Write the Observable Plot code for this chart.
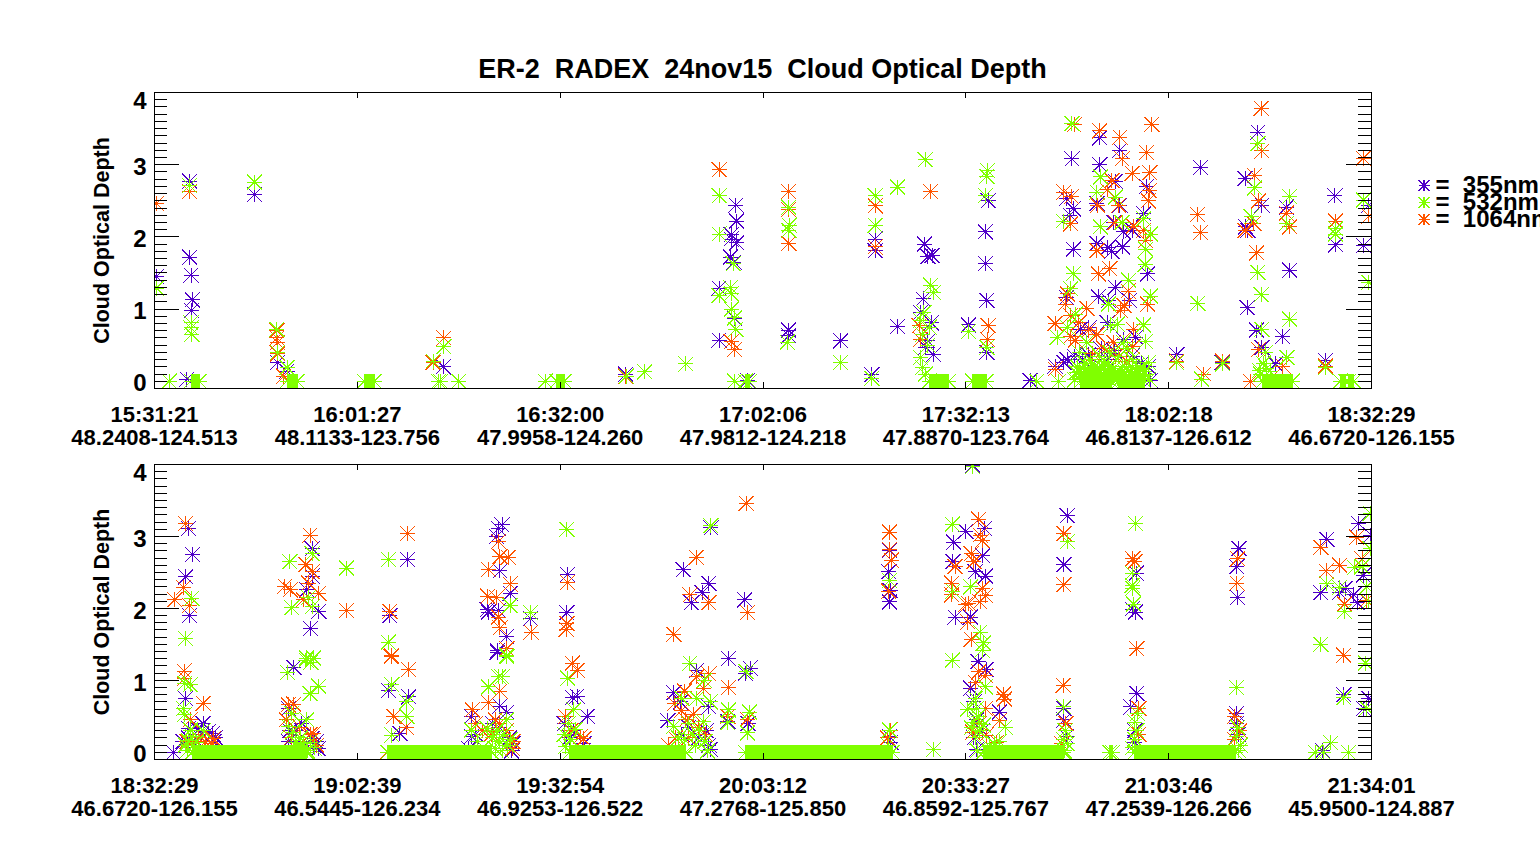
<!DOCTYPE html>
<html><head><meta charset="utf-8">
<script src="https://cdn.jsdelivr.net/npm/d3@7"></script>
<script src="https://cdn.jsdelivr.net/npm/@observablehq/plot@0.6"></script>
<style>
html,body{margin:0;padding:0;background:#fff;overflow:hidden}
#page{position:relative;width:1540px;height:845px;overflow:hidden;font-family:"Liberation Sans",sans-serif;font-weight:bold;color:#000}
#title{position:absolute;z-index:5;left:0;width:1525px;top:54px;text-align:center;font-size:27px;line-height:30px;white-space:pre}
#top,#bottom,#legend{position:absolute;left:0}
#top{top:0}#bottom{top:455px}
#legend{left:1410px;top:170px;z-index:6}
svg{display:block;overflow:visible}
</style></head><body>
<div id="page"><div id="title">ER-2  RADEX  24nov15  Cloud Optical Depth</div><div id="top"></div><div id="bottom"></div><div id="legend"></div></div>
<script>
const wavelengths=["355nm","532nm","1064nm"];
const colors=["#5000C8","#80FF00","#FF5500"];
const topTimes=["15:31:21","16:01:27","16:32:00","17:02:06","17:32:13","18:02:18","18:32:29"];
const topCoords=["48.2408-124.513","48.1133-123.756","47.9958-124.260","47.9812-124.218","47.8870-123.764","46.8137-126.612","46.6720-126.155"];
const bottomTimes=["18:32:29","19:02:39","19:32:54","20:03:12","20:33:27","21:03:46","21:34:01"];
const bottomCoords=["46.6720-126.155","46.5445-126.234","46.9253-126.522","47.2768-125.850","46.8592-125.767","47.2539-126.266","45.9500-124.887"];
const tickMinutes=[0,30,60,90,120,150,180];
const depthMajor=[1,2,3];
const depthMinor=[0,.1,.2,.3,.4,.5,.6,.7,.8,.9,1.1,1.2,1.3,1.4,1.5,1.6,1.7,1.8,1.9,2.1,2.2,2.3,2.4,2.5,2.6,2.7,2.8,2.9,3.1,3.2,3.3,3.4,3.5,3.6,3.7,3.8,3.9];

// x = minutes after panel start, y = cloud optical depth
const top355=[[.3,1.45],[5.2,2.77],[5.2,1.72],[5.4,1.47],[5.6,1.13],[5.5,.98],[14.8,2.59],[18.2,.26],[19.6,.14],[42.7,.2],[41.2,.26],[4.8,.03],
[69.7,.1],[72.5,.13],[83.5,1.29],[85.3,1.21],[83.5,.57],[86,2.44],[86.1,2.22],[85.3,2.03],[85.3,1.97],[86.1,1.92],[85.2,1.72],[85.7,1.65],[85.8,.87],[93.8,.71],[93.8,.63],[101.5,.56],[106.1,.09],[106.6,1.97],[106.6,1.81],[109.9,.76],[113.9,1.9],[114.4,1.73],[115,1.74],[113.7,1.14],[113.3,.95],[114.9,.81],[114.4,.56],[115.2,.37],[114.1,.47],[120.4,.78],[123.3,2.5],[122.9,2.07],[122.9,1.63],[123.1,1.12],[123.2,.58],[123.1,.4],[87.7,.01],
[135.7,3.08],[139.8,3.37],[139.8,3],[142.8,3.2],[142.1,2.77],[134.9,2.53],[135.9,2.39],[135.4,2.3],[139.4,2.46],[142.8,2.44],[146.7,2.7],[146.3,2.32],[135.9,1.83],[139.4,1.91],[141,1.85],[141.6,1.8],[143.2,1.86],[146.9,1.49],[142.1,1.3],[139.6,1.17],[134.9,1.16],[144.2,1.12],[141.1,1.12],[141.9,2.2],[143.3,2.07],[144.7,2.09],[138.2,.74],[136.9,.72],[140.9,.81],[143.3,.58],[145.1,.61],[138.1,.37],[133.2,.21],[134.5,.26],[129.5,.01],[147.3,.01],[151.2,.37],[154.7,2.96],[161.3,2.81],[163.8,2.44],[161.7,2.09],[161.4,2.14],[163.2,3.45],[161.6,1.02],[163,.71],[163.8,.47],[166.8,.62],[167.9,1.54],[167.4,2.41],[165.8,.24],[173.2,.29],[174.6,2.57],[174.7,1.89],[178.8,1.88],[179.6,2.44],[157.9,.26],[135,.3],[136,.35],[137.2,.3],[140,.45],[142,.42],[144.6,.35],[146,.25],[141,.3],[147,.2]];
const top532=[[.3,1.29],[5.2,2.71],[5.4,.81],[5.4,.74],[5.5,.65],[14.8,2.76],[18.1,.72],[18.2,.4],[19.6,.19],[42.8,.48],[41.2,.28],[2.2,0],[42,0],[45,0],
[83.5,2.57],[83.5,2.04],[85.2,1.3],[83.5,1.19],[85.3,1.21],[85.3,1],[85.6,1.63],[85.8,.88],[86,.72],[93.8,2.41],[93.9,2.16],[93.8,2.09],[93.6,.54],[101.5,.26],[106.1,.04],[106.6,2.57],[106.6,2.16],[109.9,2.69],[114,3.07],[114.8,1.33],[115.2,1.23],[113.8,.95],[113.3,.84],[113.6,.65],[113.3,.33],[113.6,.19],[114.4,.5],[114.6,.75],[114,.1],[120.4,.69],[123.2,2.92],[123.1,2.84],[122.9,2.57],[123.1,.47],[69.8,.07],[72.5,.13],[78.6,.24],[85.8,0],[57.8,0],[42.3,0],
[135.7,3.57],[139.9,2.83],[139.4,2.62],[142.1,2.55],[134.4,2.22],[139.9,2.14],[143.1,2.2],[146.3,2.25],[147.3,2.04],[146.6,1.83],[146.5,1.62],[135.9,1.49],[144.1,1.4],[135.5,1.28],[147.3,1.18],[141.1,1.07],[146.3,.78],[142.4,.79],[141.4,.77],[133.5,.61],[135,.75],[136.2,.93],[146.6,.55],[147,.26],[143.3,.54],[137.9,.54],[133.7,0],[130.5,0],[151.2,.26],[154.9,.03],[158,.24],[163.2,3.29],[162.7,2.68],[162.2,2.28],[163.2,1.51],[163.7,1.2],[167.9,.86],[167.9,2.56],[167.5,2.19],[154.3,1.08],[163.8,.72],[164.3,.4],[167.5,.33],[173.2,.19],[174.7,2.04],[178.8,2.51],[179.6,1.37],[174.7,2.11],[163.6,.1],[164,.25],[164.5,.18],[165,.14],[163.4,.15],
[136.8,.4],[137.6,.25],[138.4,.3],[139,.2],[139.8,.35],[140.5,.28],[141.3,.4],[141.9,.18],[142.6,.34],[143.2,.2],[143.9,.45],[144.6,.3],[145.3,.22],[145.9,.16],[146.5,.1],[136.3,.12],[136.1,.02],[147.1,.03],
[136.5,.2],[136.8,.14],[137.1,.1],[137.4,.18],[137.7,.12],[138,.16],[138.3,.1],[138.6,.19],[138.9,.13],[139.2,.1],[139.5,.17],[139.8,.12],[140.1,.2],[140.4,.1],[140.7,.15],[141,.11],[141.3,.18],[141.6,.08],[141.9,.05],[142.2,.12],[142.5,.04],[142.8,.1],[143.1,.06],[143.4,.14],[143.7,.1],[144,.17],[144.3,.12],[144.6,.19],[144.9,.1],[145.2,.14],[145.5,.11],[145.8,.18],[146.1,.09],[146.4,.14]];
const top1064=[[.3,2.46],[5.2,2.63],[18.1,.7],[18.1,.6],[18.2,.54],[18.2,.38],[19.1,.07],[42.8,.6],[41.2,.26],[83.5,2.93],[93.8,2.63],[93.8,2.38],[93.8,1.91],[93.6,.54],[106.6,2.43],[106.6,1.86],[114.8,2.63],[101.5,.26],[85.3,.55],[85.8,.44],[78.6,.24],[113.1,.77],[113.3,.58],[123.3,.77],[123.2,.58],[69.7,.07],[72.5,.13],[114.6,.75],
[136,3.55],[139.8,3.47],[142.8,3.38],[147.5,3.56],[143.1,3.08],[146.7,3.17],[144.6,2.88],[147.2,2.89],[141.6,2.78],[140.9,2.65],[134.5,2.62],[135.6,2.56],[139.5,2.44],[147.1,2.64],[147,2.5],[142.6,2.44],[135.5,2.18],[142.1,2.2],[144.8,2.15],[146.3,2.09],[146.6,1.95],[139.4,1.81],[141.3,1.56],[139.6,1.49],[144,1.25],[135,1.21],[134.7,1.07],[146.9,1.07],[143.4,1.05],[142.9,.98],[137.9,1.01],[133.2,.8],[135.5,.91],[136.7,.81],[138.2,.71],[144.8,.72],[135.5,.62],[136.2,.57],[139.4,.65],[141.9,.54],[144.7,.48],[133.2,.17],[151.2,.28],[155.2,.1],[158,.28],[154.3,2.31],[154.7,2.06],[163.7,3.78],[163.8,3.19],[162.7,2.85],[163.3,2.5],[163,1.78],[162.6,2.19],[161.3,2.09],[167.4,2.33],[167.9,2.14],[163.3,.44],[166.9,.21],[167.5,.33],[162.1,0],[173.2,.21],[174.7,2.22],[178.8,3.09],[179.6,2.29],[140.5,.45],[142.2,.35],[138.8,.38],[143.8,.28]];
const bottom355=[[5,3.11],[5.6,2.75],[4.6,2.44],[5.2,1.9],[23,3.02],[23.3,2.83],[23.3,2.45],[22.5,2.26],[24.3,1.96],[23.1,1.72],[37.4,2.68],[34.8,1.9],[50.9,3.11],[51.4,3.16],[50.6,3],[51.1,2.52],[52.6,2.21],[49.2,1.98],[49.4,1.95],[50.9,1.97],[52.1,1.61],[50.7,1.41],[55.6,1.86],
[2.8,0],[4.6,.75],[5,.33],[6.5,.31],[7.2,.4],[8,.29],[8.6,.26],[20.6,1.18],[19.8,.61],[21.8,.4],[23.3,.19],[34.6,.86],[37.6,.77],[36.3,.26],[50.7,1.39],[51.1,.64],[46.9,.5],[52.1,.56],[46.9,.22],
[4.2,.15],[5,.2],[6,.18],[7,.25],[8.8,.15],[9,.2],[19.8,.15],[20,.3],[21,.3],[22,.15],[23.5,.1],[24,.15],[24.2,.05],[46.5,.05],[47.5,.25],[50,.4],[51,.35],[52.5,.2],[53,.12],[52.8,.02],
[61.1,2.47],[61,1.94],[61.1,1.03],[61.8,.76],[62.5,.78],[64,.5],[78.2,2.54],[82,2.35],[81,2.22],[79.4,2.08],[84.9,1.3],[87.3,2.12],[88.1,1.17],[87.4,1.1],[76.8,.83],[80.2,1.14],[77.8,.7],[82,.63],[75.9,.44],[82.3,3.12],[108.7,3.06],[108.7,2.81],[108.6,2.51],[108.8,2.25],[108.7,2.09],[87.8,.4],[84.8,.43],[60.6,.4],[61.4,.2],[62,.3],[63.5,.12],[78,.25],[79,.35],[80.5,.2],[81.6,.3],[82,.1],[82.2,.04],[108.7,.22],[108.9,.14],
[120,3.07],[122.8,3.11],[118.2,2.92],[122.5,2.73],[118.1,2.65],[121.4,2.51],[122.9,2.45],[118.4,1.88],[120.7,1.88],[121.8,1.26],[123,1.15],[120.7,.89],[125,.56],[135,3.29],[134.5,2.61],[134.5,.61],[145.3,.82],[144.4,.63],[145.2,2.49],[144.6,1.99],[145.1,1.95],[160.4,2.83],[160.1,2.58],[160.2,2.15],[160,.54],[173.4,2.96],[172.5,2.22],[175.3,2.22],[176.1,2.28],[177.4,2.19],[177.9,2.08],[178.1,3.18],[179.9,3.02],[178.8,2.46],[175.9,.8],[178.8,.61],[179.6,.75],[172.8,.02],[115.2,.04],[121,3.99],[121.2,.7],[121.6,.45],[122.4,.3],[121.2,.2],[121.6,.04],[134.5,.45],[134.9,.22],[145,.3],[145,.14],[160,.4],[160.3,.25]];
const bottom532=[[4.6,1.58],[5.5,2.14],[20,2.65],[23.3,2.76],[28.4,2.56],[20.3,2.01],[22.8,2.15],[23.3,2.02],[34.6,2.68],[34.6,1.53],[52.6,2.04],[55.6,1.94],[52.1,1.35],[22.5,1.31],[23.5,1.31],
[4.5,.96],[5.3,.94],[4.3,.61],[4.4,.52],[7.2,.3],[5.3,.31],[19.7,1.11],[22.4,1.28],[23.1,1.25],[23,.82],[24.3,.92],[22.5,.45],[19.8,.36],[20.3,.54],[35.1,.94],[37.3,.7],[37.3,.5],[35.1,.24],[50.9,1.05],[49.4,.91],[52.1,1.33],[51.4,1.05],[46.9,.31],[49.2,.33],[52.1,.45],
[4.6,.1],[5,.16],[5.6,.22],[6.2,.14],[4.9,.03],[20.4,.28],[20.9,.14],[21.6,.2],[21,.08],[22,.12],[22.6,.02],[23,.14],[23.6,.06],[50,.2],[50.6,.3],[51,.15],[51.6,.25],[52.2,.1],[52.6,.18],[50.4,.05],[51.4,.02],[47.8,.15],
[61,3.1],[61.1,1.03],[62,.59],[61.2,.4],[60.6,.25],[61.6,.18],[62.2,.32],[60.8,.08],[79.2,1.24],[81.3,1],[82.3,3.15],[84.9,.59],[84.8,.41],[87.5,1.12],[88,.56],[87.7,.27],[108.7,2.39],[82.2,.7],[80.2,.75],[76.8,.36],[81.2,.43],[108.7,.31],[78,.75],[79,.4],[79.6,.25],[78.4,.18],[80,.1],[80.6,.3],[81.4,.15],[81.8,.02],[77.5,.2],[108.5,.1],
[118,3.17],[118.1,2.24],[120.7,2.3],[122.1,1.67],[122.6,1.52],[122.4,1.42],[118,1.28],[122.9,.91],[120.2,.6],[121.6,.61],[135,2.93],[134.5,.63],[145.1,3.18],[144.6,2.49],[144.6,2.32],[144.7,2.28],[144.8,2.06],[145.4,.54],[160,.9],[173.4,2.34],[175.3,2.29],[176,1.96],[172.5,1.5],[177.5,2.57],[178.6,2.58],[179.1,1.24],[179.8,3.32],[175.9,.76],[174,.13],[171.7,0],[172.9,0],[176.6,0],[179.3,2.3],[179.8,2.83],[179.3,.61],[179.6,2.09],[121,3.97],[115.2,.04],
[121.4,.75],[121.8,.5],[121.2,.42],[122,.3],[122.6,.38],[121.5,.2],[120.8,.34],[125.8,.35],[125,.15],[123.5,.08],[124.2,.12],[121.7,.02],[134.7,.3],[134.4,.18],[135,.12],[134.6,.02],[145,.42],[145.3,.3],[145,.18],[144.6,.06],[160.2,.35],[160,.22],[160.6,.1],[160.4,.02]];
const bottom1064=[[4.6,3.18],[4.3,2.29],[3,2.12],[5.2,2.04],[23,3.02],[22.4,2.61],[23.3,2.51],[22.8,2.35],[19.3,2.31],[20.1,2.26],[24.3,2.21],[22,2.12],[37.4,3.04],[28.4,1.97],[34.8,1.96],[35,1.33],[49.4,2.54],[50.9,2.93],[51.1,2.72],[52.3,2.71],[52.6,2.34],[49.3,2.17],[50.6,2.15],[50.9,1.88],[51.1,1.73],[52.1,1.44],[55.7,1.67],
[4.4,1.13],[4.5,1.03],[7.2,.68],[5.3,.45],[19.8,.66],[20.6,.67],[23.5,.26],[35.1,1.34],[37.6,1.15],[35.4,.5],[37.2,.35],[34.4,0],[52.1,1.44],[49.4,.69],[47,.59],[51.1,.85],[50.4,.45],[8.7,.19],
[4.8,.15],[6.5,.2],[7.5,.15],[8.5,.12],[19.5,.45],[20.2,.2],[21.5,.35],[23,.25],[24,.1],[47.5,.4],[48.5,.3],[49.8,.25],[51,.4],[52,.3],[53,.15],[53,.05],
[61,1.79],[60.9,1.71],[61.1,2.36],[61.8,1.24],[62.5,1.14],[60.8,.5],[63.5,.19],[87.5,3.46],[80.1,2.71],[79.2,2.19],[82,2.08],[76.8,1.64],[87.7,1.94],[84.9,.9],[82,1.09],[80.2,1.05],[81.2,.89],[78.4,.85],[76.9,.68],[77.9,.58],[79.7,.53],[108.7,3.06],[108.7,2.82],[109,2.67],[108.6,2.24],[108.8,.31],[87.7,.46],[84.8,.5],[78.6,.45],[61.6,.3],[63,.22],[76,.1],[77,.2],[79,.2],[80.5,.35],[81.5,.25],[108.4,.2],
[121.9,3.24],[122.1,3.02],[122.4,2.94],[120.8,2.76],[121.2,2.65],[118.4,2.58],[117.9,2.35],[117.9,2.19],[122.4,2.28],[122.9,2.18],[122.1,2.09],[120,2.06],[120.4,2.07],[120.3,1.81],[120.8,1.57],[121.9,1.12],[122.9,1.07],[121.4,.97],[125.6,.81],[125.7,.74],[122.9,.61],[125,.44],[134.5,3.04],[134.5,2.33],[134.4,.93],[145.3,1.44],[144.7,2.69],[145,2.65],[145.6,.61],[160.2,2.69],[160.1,2.35],[160,.9],[159.8,.5],[172.5,2.85],[173.3,2.52],[175.3,2.6],[176,2.06],[175.9,1.35],[177.8,2.99],[178.6,2.69],[179.3,2.11],[174,.13],[115.2,.04],[121,3.97],[122,.4],[121,.28],[123,.24],[124.6,.14],[134.2,.12],[134.8,.4],[145.6,.25],[159.7,.18],[160.5,.3]];

// runs of dense green stars at zero depth, minutes after panel start
const topRuns=[[5.4,6.6],[19.6,21.1],[31,32.5],[59.5,60.6],[87.4,88],[114.6,117.5],[121,123],[137,141.5],[142.6,146.4],[163.9,168.3],[175.4,176.2],[176.6,177.4]];
const bottomRuns=[[5.6,22.5],[34.5,49.9],[61.4,78.6],[87.4,109.1],[122.6,134.5],[141.3,141.7],[145,159.9]];

const FONT='"Liberation Sans",sans-serif';
const star={draw(c,size){const r=Math.sqrt(size/Math.PI);
  c.moveTo(-r,0);c.lineTo(r,0);c.moveTo(0,-r);c.lineTo(0,r);
  c.moveTo(-r,-r);c.lineTo(r,r);c.moveTo(-r,r);c.lineTo(r,-r);
  c.rect(-.6,-.6,1.2,1.2);}};

function stars(rows,i){return Plot.dot(rows,{x:d=>d[0],y:d=>d[1],symbol:star,r:7.5,stroke:colors[i],strokeWidth:1,fill:"none",clip:"frame",shapeRendering:"crispEdges"});}
function runs(rows){
  return [Plot.rect(rows,{x1:d=>d[0],x2:d=>d[1],y1:-.097,y2:.097,fill:colors[1],clip:"frame",shapeRendering:"crispEdges"}),
          stars(rows.flatMap(d=>[[d[0],0],[d[1],0]]),1)];}
function panel(p355,p532,p1064,runRows,times,coords,height,marginTop,marginBottom){
  const labels=new Map(tickMinutes.map((t,i)=>[t,times[i]+"\n"+coords[i]]));
  const K={stroke:"black",strokeWidth:1,shapeRendering:"crispEdges"};
  return Plot.plot({width:1540,height,marginTop,marginBottom,marginLeft:154,marginRight:169,
    style:{fontFamily:FONT,fontWeight:"bold",fontSize:"22px",color:"black",background:"transparent",overflow:"visible",maxWidth:"none"},
    x:{domain:[0,180]},y:{domain:[-.1,4]},
    marks:[
      stars(p355,0),stars(p1064,2),...runs(runRows),stars(p532,1),
      Plot.ruleX(tickMinutes,{y1:-.1,y2:-.017,...K}),
      Plot.ruleX(tickMinutes,{y1:3.917,y2:4,...K}),
      Plot.ruleY(depthMajor,{x1:0,x2:3.65,...K}),
      Plot.ruleY(depthMajor,{x1:176.35,x2:180,...K}),
      Plot.ruleY(depthMinor,{x1:0,x2:1.85,...K}),
      Plot.ruleY(depthMinor,{x1:178.15,x2:180,...K}),
      Plot.axisX({ticks:tickMinutes,tickSize:0,tickPadding:17,tickFormat:d=>labels.get(d),lineHeight:1.045,label:null,fontSize:22,textOverflow:null}),
      Plot.axisY({ticks:[0,1,2,3],tickSize:0,tickPadding:8,dy:2.5,fontSize:24,tickFormat:d=>d,label:null}),
      Plot.axisY({ticks:[4],tickSize:0,tickPadding:8,dy:9,fontSize:24,tickFormat:d=>d,label:null}),
      Plot.text(["Cloud Optical Depth"],{frameAnchor:"left",textAnchor:"middle",rotate:-90,dx:-52,fontSize:21.5,fontWeight:"bold",fill:"black"}),
      Plot.frame({...K})
    ]});
}
document.getElementById("top").append(panel(top355,top532,top1064,topRuns,topTimes,topCoords,455,92,67));
document.getElementById("bottom").append(panel(bottom355,bottom532,bottom1064,bottomRuns,bottomTimes,bottomCoords,390,9,86));
const legendRows=wavelengths.map((w,i)=>({w,c:colors[i]}));
document.getElementById("legend").append(Plot.plot({width:130,height:66,margin:0,marginTop:15,marginBottom:17,axis:null,
  style:{fontFamily:FONT,fontWeight:"bold",background:"transparent",overflow:"visible",maxWidth:"none"},
  x:{domain:[0,130],range:[0,130]},y:{domain:wavelengths,type:"point",padding:0},
  marks:[
    Plot.dot(legendRows,{x:()=>13.5,y:"w",symbol:star,r:5.5,stroke:"c",fill:"none",shapeRendering:"crispEdges"}),
    Plot.text(legendRows,{x:()=>25,y:"w",text:d=>"=\u00a0\u00a0"+d.w,textAnchor:"start",fontSize:24,fontWeight:"bold",fill:"black"})
  ]}));
</script></body></html>
